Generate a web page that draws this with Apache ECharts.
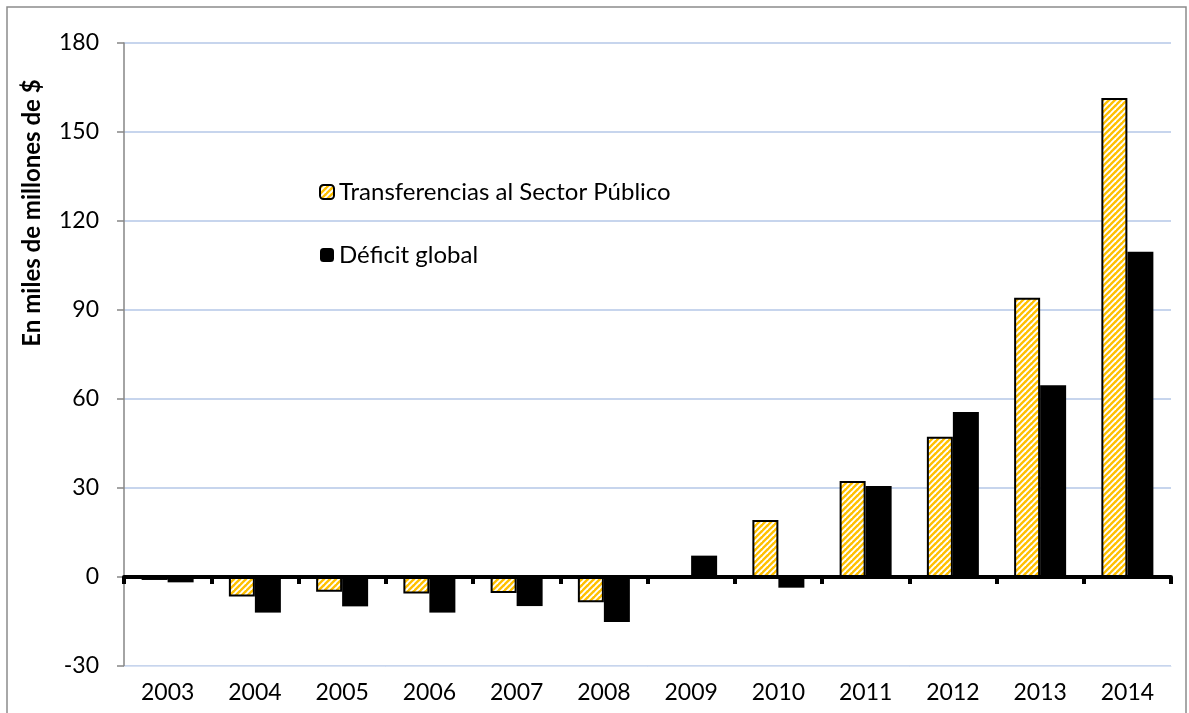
<!DOCTYPE html>
<html>
<head>
<meta charset="utf-8">
<script src="https://cdn.jsdelivr.net/npm/echarts@6/dist/echarts.min.js"></script>
<style>
  html, body { margin: 0; padding: 0; background: #fff; }
  #chart { width: 1189px; height: 713px; }
</style>
</head>
<body>
<div id="chart"></div>
<script>
// Años
const years = ['2003', '2004', '2005', '2006', '2007', '2008', '2009', '2010', '2011', '2012', '2013', '2014'];
// Transferencias al Sector Público (miles de millones de $)
const transferencias = [-1.0, -6.6, -5.0, -5.6, -5.4, -8.5, 0, 19.2, 32.4, 47.3, 94.1, 161.5];
// Déficit global (miles de millones de $)
const deficit = [-1.8, -12.0, -9.9, -12.0, -9.8, -15.2, 7.2, -3.6, 30.7, 55.6, 64.6, 109.6];
// Escala del eje vertical
const yMin = -30, yMax = 180, yStep = 30;

const FONT = 'Lato, "Open Sans", sans-serif';

// Trama diagonal amarilla y blanca para las transferencias
function stripePattern() {
  const c = document.createElement('canvas');
  const s = 6;
  c.width = s; c.height = s;
  const g = c.getContext('2d');
  g.fillStyle = '#ffc000';
  g.fillRect(0, 0, s, s);
  g.strokeStyle = '#ffffff';
  g.lineWidth = 1.9;
  for (const k of [0, s, 2 * s]) {
    g.beginPath();
    g.moveTo(-2, k + 2);
    g.lineTo(k + 2, -2);
    g.stroke();
  }
  return c;
}

const chart = echarts.init(document.getElementById('chart'), null, { renderer: 'canvas' });

chart.setOption({
  animation: false,
  backgroundColor: '#ffffff',
  textStyle: { fontFamily: FONT },
  grid: { left: 124, right: 18, top: 43, bottom: 47, containLabel: false },
  legend: {
    orient: 'vertical',
    left: 314,
    top: 175,
    itemWidth: 14,
    itemHeight: 14,
    itemGap: 39,
    textStyle: { fontFamily: FONT, fontSize: 24, color: '#000' },
    data: ['Transferencias al Sector Público', 'Déficit global']
  },
  xAxis: [
    {
      type: 'category',
      data: years,
      position: 'bottom',
      axisLine: { onZero: false, show: true, lineStyle: { color: '#d9e2f3', width: 1 } },
      axisTick: { show: false },
      axisLabel: { fontFamily: FONT, fontSize: 23, color: '#000', margin: 15 }
    },
    {
      type: 'category',
      data: years,
      position: 'bottom',
      z: 10,
      axisLine: { onZero: true, show: true, lineStyle: { color: '#000', width: 4 } },
      axisTick: { show: true, length: 7, lineStyle: { color: '#000', width: 4 } },
      axisLabel: { show: false }
    }
  ],
  yAxis: {
    type: 'value',
    min: yMin,
    max: yMax,
    interval: yStep,
    axisLine: { show: true, lineStyle: { color: '#868686', width: 1.5 } },
    axisTick: { show: true, length: 7, lineStyle: { color: '#868686', width: 1.5 } },
    axisLabel: { fontFamily: FONT, fontSize: 23, color: '#000', margin: 25 },
    splitLine: { show: true, lineStyle: { color: '#b4c7e7', width: 1.5 } }
  },
  graphic: [
    {
      type: 'rect',
      shape: { x: 7, y: 7, width: 1179, height: 720 },
      style: { fill: 'none', stroke: '#8c8c8c', lineWidth: 1.5 },
      silent: true
    },
    {
      type: 'text',
      x: 32,
      y: 213,
      rotation: Math.PI / 2,
      style: {
        text: 'En miles de millones de $',
        fontFamily: FONT,
        fontSize: 24,
        fontWeight: 'bold',
        fill: '#000',
        align: 'center',
        verticalAlign: 'middle'
      }
    }
  ],
  series: [
    {
      name: 'Transferencias al Sector Público',
      type: 'bar',
      xAxisIndex: 0,
      data: transferencias,
      barWidth: 26,
      barGap: '0%',
      itemStyle: {
        color: { image: stripePattern(), repeat: 'repeat' },
        borderColor: '#000',
        borderWidth: 2
      }
    },
    {
      name: 'Déficit global',
      type: 'bar',
      xAxisIndex: 0,
      data: deficit,
      barWidth: 26,
      barGap: '0%',
      itemStyle: { color: '#000' }
    }
  ]
});
</script>
</body>
</html>
